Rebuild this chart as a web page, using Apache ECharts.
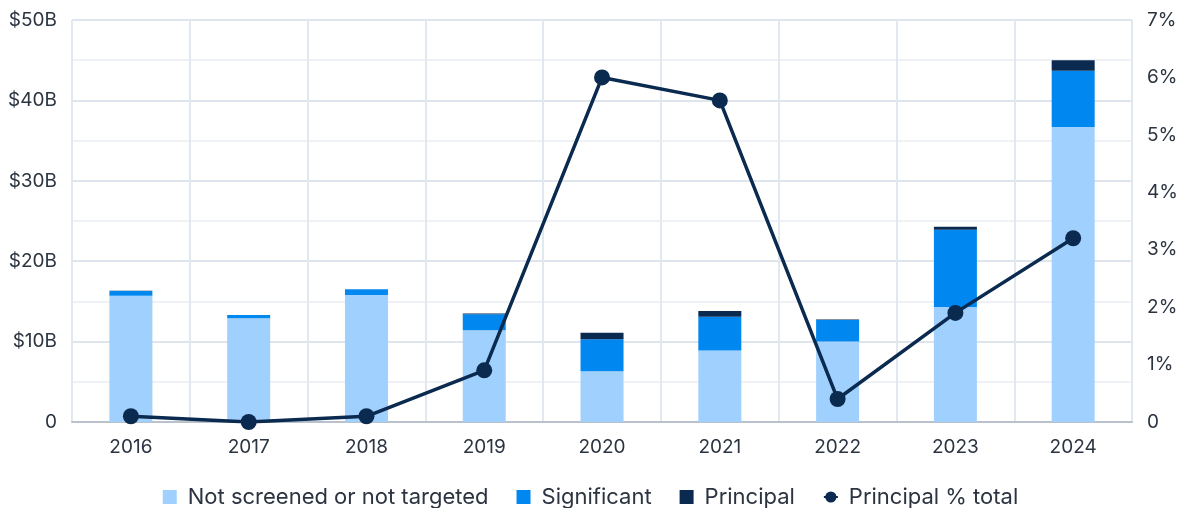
<!DOCTYPE html>
<html>
<head>
<meta charset="utf-8">
<script src="https://cdn.jsdelivr.net/npm/echarts@6/dist/echarts.min.js"></script>
<style>
  html, body { margin: 0; padding: 0; background: #fff; }
  #chart { width: 1181px; height: 508px; }
</style>
</head>
<body>
<div id="chart"></div>
<script>
// values in $B, share in %
var years = ['2016', '2017', '2018', '2019', '2020', '2021', '2022', '2023', '2024'];
var notScreened = [15.7, 12.9, 15.8, 11.4, 6.3, 8.9, 10.0, 14.3, 36.7];
var significant = [0.6, 0.4, 0.7, 2.0, 4.0, 4.2, 2.7, 9.6, 7.0];
var principal = [0.02, 0, 0.02, 0.1, 0.8, 0.7, 0.05, 0.4, 1.3];
var principalPct = [0.1, 0, 0.1, 0.9, 6.0, 5.6, 0.4, 1.9, 3.2];

var chart = echarts.init(document.getElementById('chart'));
var font = 'Inter, "Noto Sans", sans-serif';

var option = {
    animation: false,
    textStyle: { fontFamily: font },
    grid: { left: 72, right: 48, top: 20, bottom: 86 },
    legend: {
        top: 481,
        left: 'center',
        itemWidth: 14,
        itemHeight: 14,
        itemGap: 28,
        textStyle: { fontSize: 22, color: '#2b3440', fontFamily: font, padding: [0, 0, 0, 6] },
        data: [
            { name: 'Not screened or not targeted', icon: 'rect' },
            { name: 'Significant', icon: 'rect' },
            { name: 'Principal', icon: 'rect' },
            { name: 'Principal % total' }
        ]
    },
    xAxis: {
        type: 'category',
        data: years,
        axisTick: { show: false },
        axisLine: { lineStyle: { color: '#b9c2cc', width: 2 } },
        axisLabel: { fontSize: 19, color: '#2b3440', margin: 16 },
        splitLine: { show: true, lineStyle: { color: '#e2e8ef', width: 2 } }
    },
    yAxis: [
        {
            type: 'value',
            min: 0,
            max: 50,
            interval: 5,
            axisLine: { show: false },
            axisTick: { show: false },
            axisLabel: {
                fontSize: 19,
                color: '#2b3440',
                margin: 15,
                formatter: function (v) {
                    if (v === 0) return '0';
                    if (v % 10 === 0) return '$' + v + 'B';
                    return '';
                }
            },
            splitLine: { lineStyle: { color: ['#dfe5ec', '#eef2f6'], width: 2 } }
        },
        {
            type: 'value',
            min: 0,
            max: 7,
            interval: 1,
            axisLine: { show: false },
            axisTick: { show: false },
            axisLabel: {
                fontSize: 19,
                color: '#2b3440',
                margin: 15,
                formatter: function (v) { return v === 0 ? '0' : v + '%'; }
            },
            splitLine: { show: false }
        }
    ],
    series: [
        {
            name: 'Not screened or not targeted',
            type: 'bar',
            stack: 'total',
            barWidth: 43,
            itemStyle: { color: '#a0d0fd' },
            data: notScreened
        },
        {
            name: 'Significant',
            type: 'bar',
            stack: 'total',
            barWidth: 43,
            itemStyle: { color: '#0088f0' },
            data: significant
        },
        {
            name: 'Principal',
            type: 'bar',
            stack: 'total',
            barWidth: 43,
            itemStyle: { color: '#0b2a4f' },
            data: principal
        },
        {
            name: 'Principal % total',
            type: 'line',
            yAxisIndex: 1,
            symbol: 'circle',
            symbolSize: 16,
            itemStyle: { color: '#0b2a4f' },
            lineStyle: { color: '#0b2a4f', width: 3.5 },
            data: principalPct
        }
    ]
};
chart.setOption(option);
</script>
</body>
</html>
